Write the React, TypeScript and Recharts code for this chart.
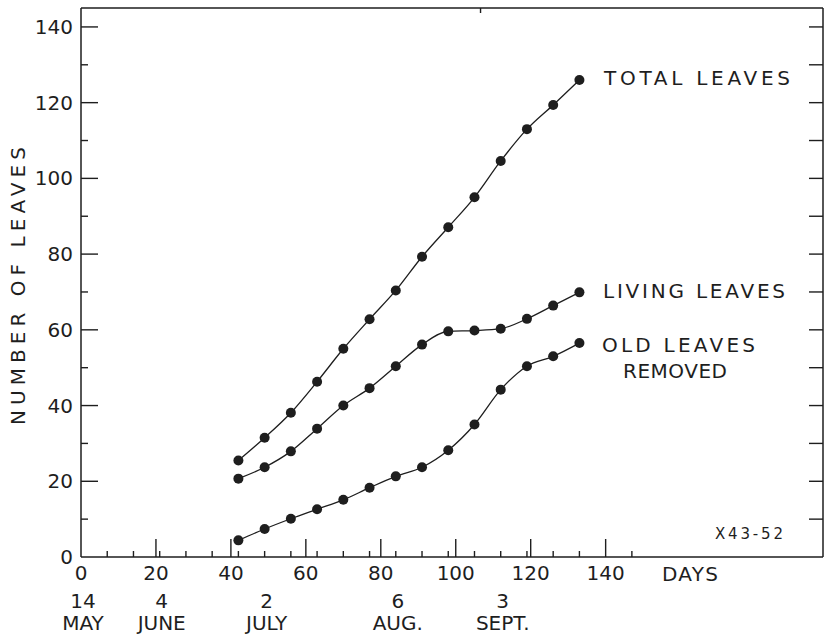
import { Line, LineChart, XAxis, YAxis } from 'recharts'

// sampling days (days after 14 May)
const DAYS = [42, 49, 56, 63, 70, 77, 84, 91, 98, 105, 112, 119, 126, 133]
const TOTAL_LEAVES = [25.5, 31.5, 38.1, 46.3, 55, 62.8, 70.4, 79.3, 87.1, 95, 104.6, 113, 119.4, 126]
const LIVING_LEAVES = [20.7, 23.7, 27.9, 33.9, 40, 44.6, 50.4, 56.1, 59.6, 59.8, 60.3, 62.9, 66.4, 69.9]
const OLD_LEAVES_REMOVED = [4.4, 7.4, 10.1, 12.6, 15.1, 18.3, 21.3, 23.7, 28.2, 35, 44.2, 50.4, 53, 56.5]

const X_MAJOR = [0, 20, 40, 60, 80, 100, 120, 140]
const X_MINOR = [7, 14, 21, 28, 35, 42, 49, 56, 63, 70, 77, 84, 91, 98, 105, 112, 119, 126, 133, 140, 147]
const Y_TICKS = [0, 10, 20, 30, 40, 50, 60, 70, 80, 90, 100, 110, 120, 130, 140]

const DATE_DAYS = [0, 21, 49, 84, 112]
const DATE_NUMS = ['14', '4', '2', '6', '3']
const DATE_MONTHS = ['MAY', 'JUNE', 'JULY', 'AUG.', 'SEPT.']

const INK = '#1e1e1e'
const FONT = '"DejaVu Sans", Verdana, sans-serif'

const X_TICKS = Array.from(new Set([...X_MAJOR, ...X_MINOR])).sort((a, b) => a - b)

const data = DAYS.map((day, i) => ({
  day,
  total: TOTAL_LEAVES[i],
  living: LIVING_LEAVES[i],
  old: OLD_LEAVES_REMOVED[i],
}))

const txt = { fontFamily: FONT, fontSize: 20, fill: INK }

function BottomTick({ x, y, payload }: any) {
  const v = payload.value
  const major = X_MAJOR.includes(v)
  const len = v === 0 ? 0 : major ? 18 : 6
  const di = DATE_DAYS.indexOf(v)
  return (
    <g>
      {len > 0 && <line x1={x} x2={x} y1={y} y2={y - len} stroke={INK} strokeWidth={1.4} />}
      {major && (
        <text x={x} y={y + 23} textAnchor="middle" {...txt}>
          {v}
        </text>
      )}
      {di >= 0 && (
        <>
          <text x={x + 2} y={y + 51} textAnchor="middle" {...txt}>
            {DATE_NUMS[di]}
          </text>
          <text x={x + 2} y={y + 73} textAnchor="middle" {...txt}>
            {DATE_MONTHS[di]}
          </text>
        </>
      )}
    </g>
  )
}

function TopTick({ x, y, payload }: any) {
  const v = payload.value
  const len = X_MAJOR.includes(v) ? 17 : 5
  return <line x1={x} x2={x} y1={y} y2={y + len} stroke={INK} strokeWidth={1.4} />
}

function LeftTick({ x, y, payload }: any) {
  const v = payload.value
  const major = v % 20 === 0
  return (
    <g>
      {v > 0 && <line x1={x} x2={x + (major ? 17 : 7)} y1={y} y2={y} stroke={INK} strokeWidth={1.4} />}
      {major && (
        <text x={x - 8} y={y + 7} textAnchor="end" {...txt}>
          {v}
        </text>
      )}
    </g>
  )
}

function RightTick({ x, y, payload }: any) {
  if (payload.value === 0) return <g />
  return <line x1={x} x2={x - 14} y1={y} y2={y} stroke={INK} strokeWidth={1.4} />
}

export default function App() {
  const lineProps = {
    type: 'monotone' as const,
    xAxisId: 'bottom',
    yAxisId: 'left',
    stroke: INK,
    strokeWidth: 1.3,
    dot: { r: 5, fill: INK, stroke: INK, strokeWidth: 0 },
    activeDot: false as const,
    isAnimationActive: false,
  }

  return (
    <div style={{ position: 'absolute', left: 0, top: 0, width: 829, height: 636, background: '#fff' }}>
      <LineChart width={829} height={636} data={data} margin={{ top: 0, right: 0, bottom: 0, left: 0 }}>
        <XAxis
          xAxisId="bottom"
          dataKey="day"
          type="number"
          domain={[0, 198]}
          ticks={X_TICKS}
          interval={0}
          height={79}
          tickSize={0}
          tickMargin={0}
          tickLine={false}
          axisLine={{ stroke: INK, strokeWidth: 1.5 }}
          tick={(p: any) => <BottomTick {...p} />}
          allowDataOverflow
        />
        <XAxis
          xAxisId="top"
          orientation="top"
          type="number"
          domain={[0, 198]}
          ticks={X_TICKS.filter((t) => t > 0)}
          interval={0}
          height={8}
          tickSize={0}
          tickMargin={0}
          tickLine={false}
          axisLine={{ stroke: INK, strokeWidth: 1.5 }}
          tick={(p: any) => <TopTick {...p} />}
          allowDataOverflow
        />
        <YAxis
          yAxisId="left"
          type="number"
          domain={[0, 145]}
          ticks={Y_TICKS}
          interval={0}
          width={81}
          tickSize={0}
          tickMargin={0}
          tickLine={false}
          axisLine={{ stroke: INK, strokeWidth: 1.5 }}
          tick={(p: any) => <LeftTick {...p} />}
          allowDataOverflow
        />
        <YAxis
          yAxisId="right"
          orientation="right"
          type="number"
          domain={[0, 145]}
          ticks={Y_TICKS}
          interval={0}
          width={6}
          tickSize={0}
          tickMargin={0}
          tickLine={false}
          axisLine={{ stroke: INK, strokeWidth: 1.5 }}
          tick={(p: any) => <RightTick {...p} />}
          allowDataOverflow
        />
        <Line dataKey="total" {...lineProps} />
        <Line dataKey="living" {...lineProps} />
        <Line dataKey="old" {...lineProps} />
      </LineChart>
      <svg
        width={829}
        height={636}
        style={{ position: 'absolute', left: 0, top: 0, pointerEvents: 'none' }}
      >
        <text
          x={25}
          y={286}
          textAnchor="middle"
          transform="rotate(-90 25 286)"
          textLength={278}
          lengthAdjust="spacing"
          {...txt}
        >
          NUMBER  OF  LEAVES
        </text>
        <text x={604} y={85} textLength={186} lengthAdjust="spacing" {...txt}>
          TOTAL LEAVES
        </text>
        <text x={603} y={298} textLength={182} lengthAdjust="spacing" {...txt}>
          LIVING LEAVES
        </text>
        <text x={602} y={352} textLength={153} lengthAdjust="spacing" {...txt}>
          OLD LEAVES
        </text>
        <text x={623} y={378} textLength={104} lengthAdjust="spacing" {...txt}>
          REMOVED
        </text>
        <text x={662} y={581} textLength={56} lengthAdjust="spacing" {...txt}>
          DAYS
        </text>
        <text x={715} y={539} textLength={68} lengthAdjust="spacing" {...txt} fontSize={15}>
          X43-52
        </text>
      </svg>
    </div>
  )
}
